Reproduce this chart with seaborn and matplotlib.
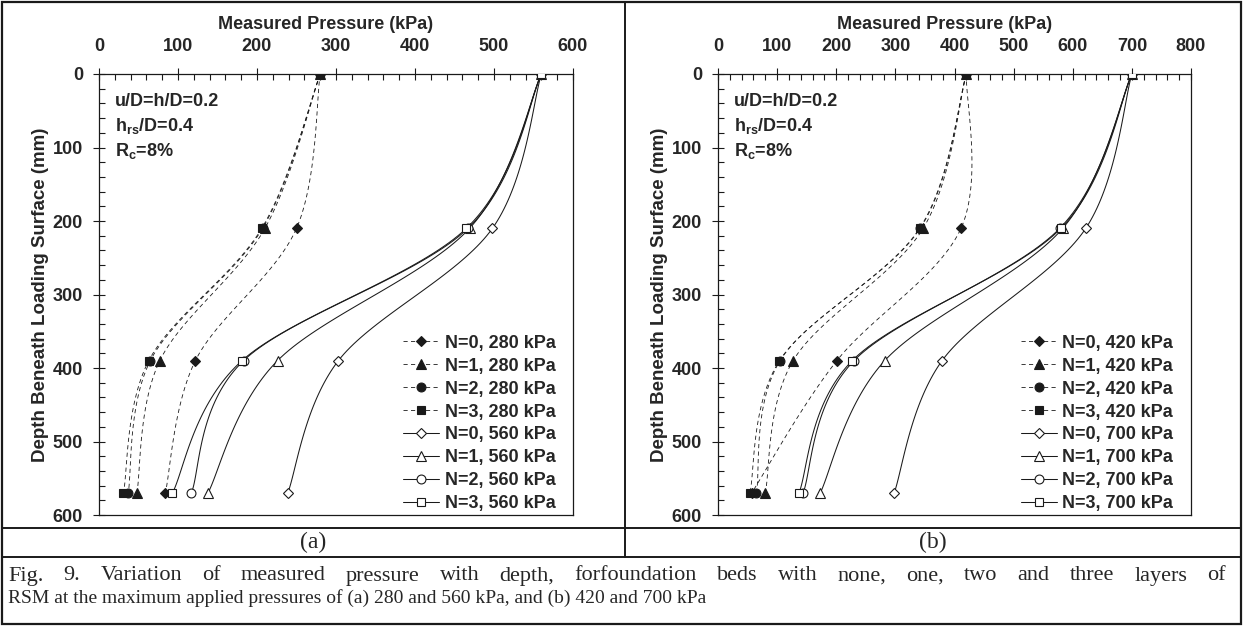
import numpy as np
import seaborn as sns
import matplotlib.pyplot as plt
from matplotlib.lines import Line2D
from matplotlib.patches import Rectangle
from matplotlib.ticker import MultipleLocator

sns.set_theme(style="white")
plt.rcParams['font.family'] = ['Liberation Sans', 'DejaVu Sans']
plt.rcParams['font.weight'] = 'bold'
plt.rcParams['axes.labelweight'] = 'bold'
plt.rcParams['mathtext.fontset'] = 'custom'
plt.rcParams['mathtext.rm'] = 'Liberation Sans:bold'
plt.rcParams['mathtext.bf'] = 'Liberation Sans:bold'
plt.rcParams['mathtext.it'] = 'Liberation Sans:bold'

# depth of the pressure cells (mm)
depth = [0, 210, 390, 570]

# (a) measured pressure (kPa), applied 280 / 560 kPa
a_n0_280 = [280, 250, 122, 84]
a_n1_280 = [280, 210, 77, 48]
a_n2_280 = [280, 207, 65, 37]
a_n3_280 = [280, 206, 63, 31]
a_n0_560 = [560, 498, 303, 239]
a_n1_560 = [560, 469, 226, 138]
a_n2_560 = [560, 467, 183, 117]
a_n3_560 = [560, 465, 181, 93]

# (b) measured pressure (kPa), applied 420 / 700 kPa
b_n0_420 = [420, 411, 201, 57]
b_n1_420 = [420, 347, 127, 80]
b_n2_420 = [420, 342, 105, 65]
b_n3_420 = [420, 341, 104, 54]
b_n0_700 = [700, 622, 379, 298]
b_n1_700 = [700, 583, 282, 173]
b_n2_700 = [700, 578, 230, 144]
b_n3_700 = [700, 580, 227, 137]

notes = ["u/D=h/D=0.2", r"h$_{\mathbf{rs}}$/D=0.4", r"R$_{\mathbf{c}}$=8%"]
caption1 = ("Fig. 9. Variation of measured pressure with depth, forfoundation beds "
            "with none, one, two and three layers of")
caption2 = ("RSM at the maximum applied pressures of (a) 280 and 560 kPa, "
            "and (b) 420 and 700 kPa")

markers = ['D', '^', 'o', 's']
msizes = {'D': 5.0, '^': 7.4, 'o': 6.4, 's': 6.4}
FS = 13

W, H = 1243, 626


def fx(x):
    return x / W


def fy(y):
    return 1 - y / H


def smooth(xv, yv, sx, sy, n=40):
    # excel-like smoothed line (catmull-rom bezier) in pixel space
    p = np.column_stack([np.asarray(xv, float) * sx, np.asarray(yv, float) * sy])
    pts = np.vstack([p[0], p, p[-1]])
    t = np.linspace(0, 1, n)[:, None]
    out = []
    for i in range(1, len(pts) - 2):
        p0, p1, p2, p3 = pts[i - 1], pts[i], pts[i + 1], pts[i + 2]
        c1 = p1 + (p2 - p0) / 6
        c2 = p2 - (p3 - p1) / 6
        seg = (1 - t) ** 3 * p1 + 3 * (1 - t) ** 2 * t * c1 + 3 * (1 - t) * t ** 2 * c2 + t ** 3 * p2
        out.append(seg if i == 1 else seg[1:])
    out = np.vstack(out)
    return out[:, 0] / sx, out[:, 1] / sy


def panel(ax, low, high, p_low, p_high, xmax, x_px):
    sx, sy = x_px / xmax, 441 / 600
    series = []
    for i, v in enumerate(low):
        series.append((v, markers[i], True, f"N={i}, {p_low} kPa"))
    for i, v in enumerate(high):
        series.append((v, markers[i], False, f"N={i}, {p_high} kPa"))

    dash = (0, (5, 4))
    for v, m, filled, lab in series:
        cx, cy = smooth(v, depth, sx, sy)
        sns.lineplot(x=cx, y=cy, sort=False, estimator=None, ax=ax, color='k',
                     lw=0.6 if filled else 0.75, linestyle=dash if filled else '-')

    handles, labels = [], []
    for v, m, filled, lab in series:
        kw = dict(marker=m, ms=msizes[m], mec='k', mew=0.8,
                  mfc='k' if filled else 'white')
        ax.plot(v, depth, ls='none', zorder=5, **kw)
        handles.append(Line2D([], [], color='k', lw=0.6 if filled else 0.75,
                              ls=dash if filled else '-', **kw))
        labels.append(lab)

    ax.set_xlim(0, xmax)
    ax.set_ylim(600, 0)
    ax.xaxis.tick_top()
    ax.xaxis.set_label_position('top')
    ax.xaxis.set_major_locator(MultipleLocator(100))
    ax.xaxis.set_minor_locator(MultipleLocator(20))
    ax.yaxis.set_major_locator(MultipleLocator(100))
    ax.yaxis.set_minor_locator(MultipleLocator(20))
    ax.tick_params(which='major', direction='inout', length=9, width=0.8,
                   color='k', top=True, bottom=False, left=True, right=False,
                   labeltop=True, labelbottom=False, labelsize=FS)
    ax.tick_params(which='minor', direction='in', length=4.5, width=0.8,
                   color='k', top=True, bottom=False, left=True, right=False)
    ax.tick_params(axis='y', which='major', pad=7)
    ax.tick_params(axis='x', which='major', pad=9)
    for s in ax.spines.values():
        s.set_color('k')
        s.set_linewidth(0.9)
    ax.set_xlabel("Measured Pressure (kPa)", fontsize=FS, labelpad=7)
    ax.xaxis.label.set_x(0.478)
    ax.set_ylabel("Depth Beneath Loading Surface (mm)", fontsize=13.5, labelpad=3)
    ax.grid(False)

    for k, txt in enumerate(notes):
        ax.text(0.034, 1 - (27.7 + 24.5 * k) / 441, txt, transform=ax.transAxes,
                fontsize=FS, fontweight='bold', va='center', ha='left')

    ax.legend(handles=handles, labels=labels, loc='lower right', frameon=False,
              fontsize=FS, handlelength=2.0, handletextpad=0.3, labelspacing=0.33,
              borderaxespad=0, borderpad=0, bbox_to_anchor=(0.963, 0.006))


fig = plt.figure(figsize=(W / 100, H / 100), dpi=100)
ax1 = fig.add_axes([fx(99), fy(515), 474 / W, 441 / H])
ax2 = fig.add_axes([fx(718), fy(515), 473 / W, 441 / H])

panel(ax1, [a_n0_280, a_n1_280, a_n2_280, a_n3_280],
      [a_n0_560, a_n1_560, a_n2_560, a_n3_560], 280, 560, 600, 474)
panel(ax2, [b_n0_420, b_n1_420, b_n2_420, b_n3_420],
      [b_n0_700, b_n1_700, b_n2_700, b_n3_700], 420, 700, 800, 473)

# table frame around the two panels and caption
fig.add_artist(Rectangle((fx(1.5), fy(624)), fx(1239.5), 622.5 / H, fill=False,
                         ec='k', lw=1.6, transform=fig.transFigure))
for y in (528, 557):
    fig.add_artist(Line2D([fx(1.5), fx(1241)], [fy(y), fy(y)], color='k', lw=1.4,
                          transform=fig.transFigure))
fig.add_artist(Line2D([fx(625), fx(625)], [fy(1.5), fy(557)], color='k', lw=1.4,
                      transform=fig.transFigure))

serif = ['Liberation Serif', 'DejaVu Serif']
fig.text(fx(313), fy(542), "(a)", family=serif, fontweight='normal', fontsize=17,
         ha='center', va='center')
fig.text(fx(933), fy(542), "(b)", family=serif, fontweight='normal', fontsize=17,
         ha='center', va='center')

# first caption line is justified across the cell
renderer = fig.canvas.get_renderer()
words = caption1.split()
texts = [fig.text(0, fy(576), w, family=serif, fontweight='normal', fontsize=16,
                  ha='left', va='center') for w in words]
widths = [t.get_window_extent(renderer).width for t in texts]
x0, x1 = 8, 1226
gap = (x1 - x0 - sum(widths)) / (len(words) - 1)
x = x0
for t, w in zip(texts, widths):
    t.set_x(fx(x))
    x += w + gap
fig.text(fx(8), fy(598), caption2, family=serif, fontweight='normal', fontsize=14,
         ha='left', va='center')

fig.savefig("out.png", dpi=100)
